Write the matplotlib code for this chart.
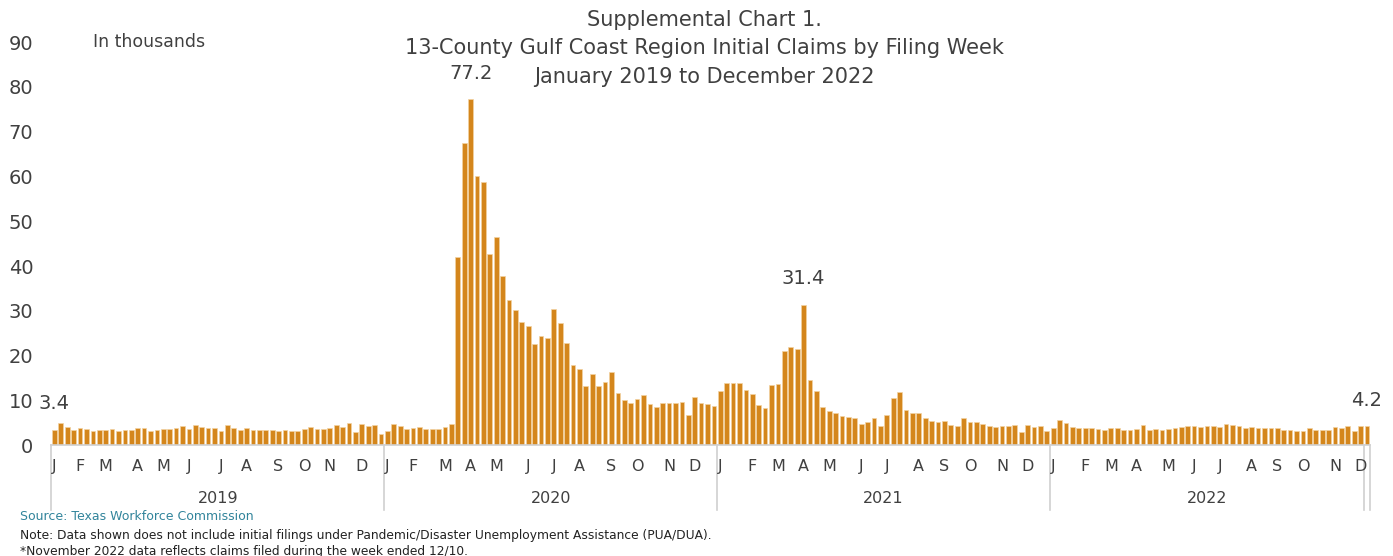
import matplotlib
matplotlib.use("Agg")
import matplotlib.pyplot as plt
import matplotlib.transforms as mtransforms
import pandas as pd
import numpy as np

# ---------------- data (thousands of initial claims, weekly) ----------------
claims_2019 = [3.4, 4.9, 4.1, 3.5, 3.8, 3.6, 3.3, 3.4, 3.4, 3.6,
               3.2, 3.4, 3.5, 3.8, 3.8, 3.2, 3.5, 3.6, 3.6, 3.8,
               4.2, 3.6, 4.5, 4.1, 3.8, 3.8, 3.3, 4.5, 3.8, 3.5,
               3.8, 3.5, 3.4, 3.5, 3.5, 3.2, 3.4, 3.3, 3.3, 3.6,
               4.0, 3.7, 3.6, 3.8, 4.5, 4.1, 5.0, 2.9, 4.7, 4.3,
               4.5, 2.6]
claims_2020 = [3.1, 4.8, 4.2, 3.7, 3.8, 4.0, 3.7, 3.7, 3.7, 4.1,
               4.8, 42.1, 67.5, 77.2, 60.1, 58.8, 42.6, 46.6, 37.8, 32.5,
               30.3, 27.6, 26.7, 22.5, 24.3, 24.0, 30.4, 27.2, 22.8, 17.9,
               17.0, 13.2, 16.0, 13.2, 14.1, 16.3, 11.6, 10.1, 9.4, 10.4,
               11.2, 9.2, 8.6, 9.4, 9.4, 9.4, 9.6, 6.7, 10.8, 9.4,
               9.2, 8.7]
claims_2021 = [12.2, 13.9, 13.9, 13.9, 12.4, 11.5, 8.9, 8.4, 13.4, 13.7,
               21.1, 22.0, 21.6, 31.4, 14.5, 12.2, 8.5, 7.7, 7.1, 6.6,
               6.4, 6.2, 4.8, 5.2, 6.1, 4.3, 6.8, 10.5, 11.8, 7.9,
               7.2, 7.3, 6.1, 5.5, 5.3, 5.5, 4.5, 4.4, 6.1, 5.3,
               5.2, 4.7, 4.3, 4.0, 4.4, 4.4, 4.6, 2.9, 4.6, 4.1,
               4.4, 3.3]
claims_2022 = [3.8, 5.6, 5.0, 4.1, 3.8, 3.8, 3.8, 3.6, 3.4, 3.8,
               3.8, 3.4, 3.5, 3.6, 4.5, 3.5, 3.6, 3.5, 3.7, 3.9,
               4.1, 4.3, 4.3, 4.1, 4.3, 4.2, 4.1, 4.7, 4.5, 4.3,
               3.9, 4.1, 3.9, 3.8, 3.8, 3.9, 3.4, 3.4, 3.3, 3.2,
               3.9, 3.4, 3.4, 3.4, 4.1, 3.8, 4.4, 3.1, 4.4, 4.2]

week_start = "2019-01-05"
week_end = "2022-12-10"
month_letters = ["J", "F", "M", "A", "M", "J", "J", "A", "S", "O", "N", "D"]
year_labels = ["2019", "2020", "2021", "2022"]
year_week_counts = [52, 52, 52, 49]
y_ticks = [0, 10, 20, 30, 40, 50, 60, 70, 80, 90]

title_lines = ["Supplemental Chart 1.",
               "13-County Gulf Coast Region Initial Claims by Filing Week",
               "January 2019 to December 2022"]

# ---------------- figure ----------------
FONT = "DejaVu Sans"
plt.rcParams["font.family"] = [FONT]

values = claims_2019 + claims_2020 + claims_2021 + claims_2022
weeks = pd.date_range(week_start, week_end, freq="W-SAT")
x = np.arange(len(values))

fig = plt.figure(figsize=(13.93, 5.56), dpi=100)
ax = fig.add_axes([0.0368, 0.1991, 0.9468, 0.7252])

bar_color = "#D4861C"
ax.bar(x, values, width=0.74, color=bar_color, edgecolor="#F2D3A2", linewidth=0.5)

ax.set_xlim(-0.5, len(values) - 0.5)
ax.set_ylim(0, 90)
for s in ["top", "right", "left"]:
    ax.spines[s].set_visible(False)
ax.spines["bottom"].set_color("#D0D0D0")
ax.spines["bottom"].set_linewidth(1.2)

ax.set_yticks(y_ticks)
ax.set_yticklabels([str(t) for t in y_ticks], fontsize=14, color="#404040")
ax.tick_params(axis="y", length=0, pad=13)
ax.set_xticks([])

text_color = "#404040"
trans = mtransforms.blended_transform_factory(ax.transData, ax.transAxes)

# month labels at first week of each month
prev_month = None
for i, d in enumerate(weeks):
    if d.month != prev_month:
        ax.text(i, -0.052, month_letters[d.month - 1], transform=trans,
                ha="center", va="center", fontsize=11.5, color=text_color)
    prev_month = d.month

# year groups and separator lines
edges = [-0.5]
for c in year_week_counts:
    edges.append(edges[-1] + c)
sep_kw = dict(transform=trans, color="#D0D0D0", linewidth=1.2, clip_on=False)
for e in edges:
    ax.plot([e, e], [0, -0.16], **sep_kw)
ax.plot([len(values) - 0.5] * 2, [0, -0.16], **sep_kw)
for k, lab in enumerate(year_labels):
    ax.text((edges[k] + edges[k + 1]) / 2, -0.131, lab, transform=trans,
            ha="center", va="center", fontsize=11.5, color=text_color)

# data labels
for idx in [0, int(np.argmax(values)), 104 + int(np.argmax(claims_2021)), len(values) - 1]:
    ax.annotate(f"{values[idx]:.1f}", (idx, values[idx]), xytext=(0, 12),
                textcoords="offset points", ha="center", va="bottom",
                fontsize=14, color=text_color)

# "In thousands"
fig.text(93 / 1393, 1 - 42 / 556, "In thousands", ha="left", va="center",
         fontsize=12.5, color=text_color)

# title
for k, (line, yp) in enumerate(zip(title_lines, [20, 48, 77])):
    fig.text(704 / 1393, 1 - yp / 556, line, ha="center", va="center",
             fontsize=15, color=text_color)

# footnotes
fig.text(20 / 1393, 1 - 517 / 556, "Source: Texas Workforce Commission",
         ha="left", va="center", fontsize=9, color="#31849B")
fig.text(20 / 1393, 1 - 535 / 556,
         "Note: Data shown does not include initial filings under Pandemic/Disaster Unemployment Assistance (PUA/DUA).",
         ha="left", va="center", fontsize=8.8, color="#222222")
fig.text(20 / 1393, 1 - 551 / 556,
         "*November 2022 data reflects claims filed during the week ended 12/10.",
         ha="left", va="center", fontsize=8.8, color="#222222")

fig.savefig("out.png", dpi=100)
